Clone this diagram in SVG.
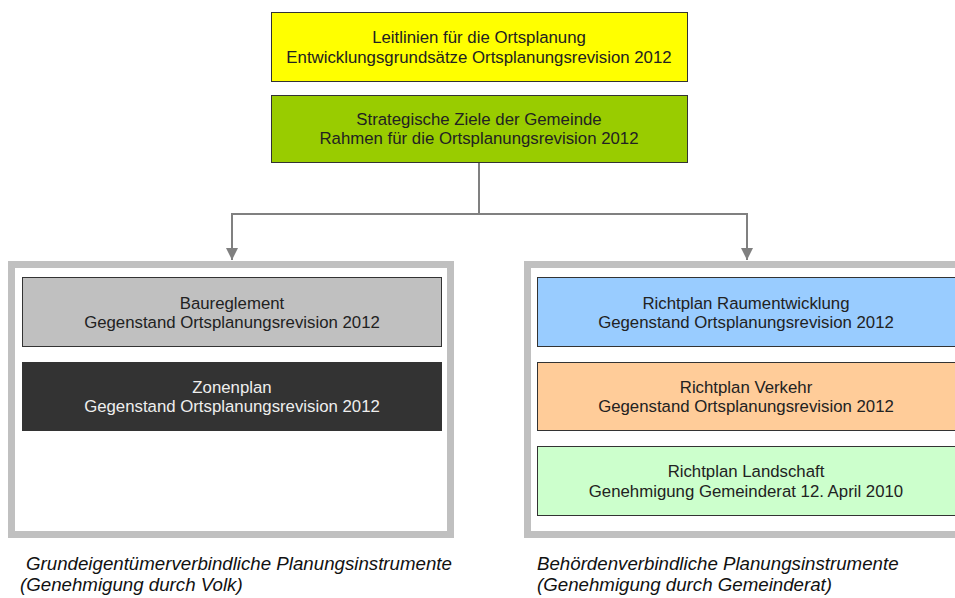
<svg xmlns="http://www.w3.org/2000/svg" width="955" height="598" viewBox="0 0 955 598">
<style>
.box{stroke:#333;stroke-width:1}
.frame{fill:#fff;stroke:#c0c0c0;stroke-width:7}
.t{font-family:"Liberation Sans",Arial,sans-serif;font-size:16.8px;fill:#222;text-anchor:middle}
.w{fill:#eee}
.cap{font-family:"Liberation Sans",Arial,sans-serif;font-size:18.7px;font-style:italic;fill:#111}
.conn{fill:none;stroke:#808080;stroke-width:2}
</style>
<defs>
<marker id="ah" markerUnits="userSpaceOnUse" markerWidth="12" markerHeight="12" refX="12" refY="6" orient="auto">
<path d="M0,0 L12,6 L0,12 z" fill="#808080"/>
</marker>
</defs>
<rect width="955" height="598" fill="#fff"/>
<g id="frame-left"><rect class="frame" x="11.5" y="264.5" width="439" height="270"/></g>
<g id="frame-right"><rect class="frame" x="527.5" y="264.5" width="439" height="270"/></g>
<g id="connectors">
<path class="conn" d="M479,163 V214 H232 V260" marker-end="url(#ah)"/>
<path class="conn" d="M479,214 H747 V260" marker-end="url(#ah)"/>
</g>
<g id="leitlinien">
<rect class="box" x="271.5" y="12.5" width="416" height="69" fill="#ffff00"/>
<text class="t" x="479" y="43">Leitlinien für die Ortsplanung</text>
<text class="t" x="479" y="63">Entwicklungsgrundsätze Ortsplanungsrevision 2012</text>
</g>
<g id="strategische">
<rect class="box" x="271.5" y="95.5" width="416" height="67" fill="#99cc00"/>
<text class="t" x="479" y="125">Strategische Ziele der Gemeinde</text>
<text class="t" x="479" y="144">Rahmen für die Ortsplanungsrevision 2012</text>
</g>
<g id="baureglement">
<rect class="box" x="22.5" y="277.5" width="419" height="69" fill="#c0c0c0"/>
<text class="t" x="232" y="309">Baureglement</text>
<text class="t" x="232" y="328">Gegenstand Ortsplanungsrevision 2012</text>
</g>
<g id="zonenplan">
<rect class="box" x="22.5" y="362.5" width="419" height="68" fill="#333333"/>
<text class="t w" x="232" y="393">Zonenplan</text>
<text class="t w" x="232" y="412">Gegenstand Ortsplanungsrevision 2012</text>
</g>
<g id="raumentwicklung">
<rect class="box" x="537.5" y="277.5" width="419" height="69" fill="#99ccff"/>
<text class="t" x="746" y="309">Richtplan Raumentwicklung</text>
<text class="t" x="746" y="328">Gegenstand Ortsplanungsrevision 2012</text>
</g>
<g id="verkehr">
<rect class="box" x="537.5" y="362.5" width="419" height="68" fill="#ffcc99"/>
<text class="t" x="746" y="393">Richtplan Verkehr</text>
<text class="t" x="746" y="412">Gegenstand Ortsplanungsrevision 2012</text>
</g>
<g id="landschaft">
<rect class="box" x="537.5" y="446.5" width="419" height="69" fill="#ccffcc"/>
<text class="t" x="746" y="477">Richtplan Landschaft</text>
<text class="t" x="746" y="497">Genehmigung Gemeinderat 12. April 2010</text>
</g>
<g id="caption-left">
<text class="cap" x="26" y="570">Grundeigentümerverbindliche Planungsinstrumente</text>
<text class="cap" x="20" y="591">(Genehmigung durch Volk)</text>
</g>
<g id="caption-right">
<text class="cap" x="537" y="570">Behördenverbindliche Planungsinstrumente</text>
<text class="cap" x="537" y="591">(Genehmigung durch Gemeinderat)</text>
</g>
</svg>
